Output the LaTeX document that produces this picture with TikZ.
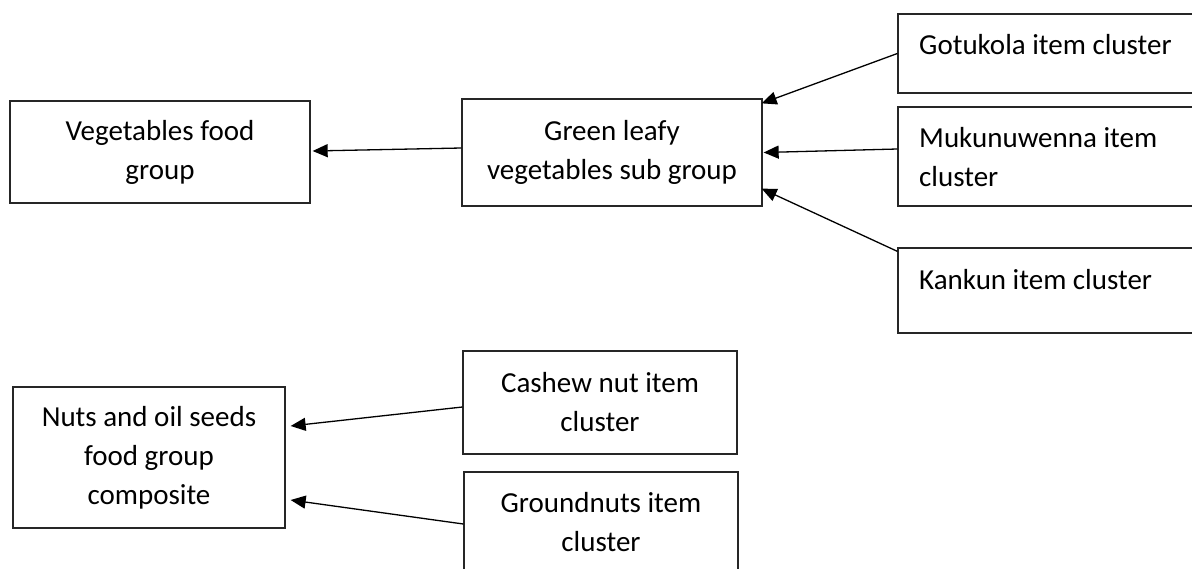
\documentclass[tikz,border=0pt]{standalone}
\usepackage{fontspec}
\setmainfont{Carlito}
\usetikzlibrary{arrows.meta}
\tikzset{
  box/.style={draw=black!85, line width=1.3pt, inner sep=0pt, align=center,
    font=\fontsize{29}{39}\selectfont},
  lbll/.style={font=\fontsize{29}{39}\selectfont, align=left, inner sep=0pt, anchor=west},
  arr/.style={line width=1.3pt, -{Triangle[length=15pt,width=13pt]}}
}
\begin{document}
\begin{tikzpicture}[x=1pt,y=-1pt]
\path[use as bounding box, clip] (0,0) rectangle (1192,568);
\fill[white] (0,0) rectangle (1192,568);
% boxes
\node[box, minimum width=300pt, minimum height=102pt] (veg) at (160,152) {Vegetables food\\group};
\node[box, minimum width=300pt, minimum height=107pt] (green) at (612,152.5) {Green leafy\\vegetables sub group};
\node[box, minimum width=302pt, minimum height=79pt] (gotu) at (1049,53.5) {};
\node[box, minimum width=302pt, minimum height=99pt] (muk) at (1049,156.5) {};
\node[box, minimum width=302pt, minimum height=85pt] (kank) at (1049,290.5) {};
\node[box, minimum width=272pt, minimum height=141pt] (nuts) at (149,457.5) {Nuts and oil seeds\\food group\\composite};
\node[box, minimum width=274pt, minimum height=103pt] (cash) at (600,402.5) {Cashew nut item\\cluster};
\node[box, minimum width=274pt, minimum height=101pt] (grnd) at (601,522.5) {Groundnuts item\\cluster};
% left-aligned texts
\node[lbll] (gotut) at (919,45) {Gotukola item cluster};
\node[lbll] (mukt) at (919,157.5) {Mukunuwenna item\\cluster};
\node[lbll] (kankt) at (919,280) {Kankun item cluster};
% connectors
\draw[arr] ([shift={(0,-4.5)}]green.west) -- ([shift={(2,-1)}]veg.east);
\draw[arr] (gotu.west) -- ([shift={(-1,5)}]green.north east);
\draw[arr] ([shift={(0,-7.5)}]muk.west) -- ([shift={(1,0)}]green.east);
\draw[arr] ([shift={(0,4)}]kank.north west) -- ([shift={(-1,-18)}]green.south east);
\draw[arr] ([shift={(0,4.5)}]cash.west) -- ([shift={(5,-31.5)}]nuts.east);
\draw[arr] ([shift={(0,1.5)}]grnd.west) -- ([shift={(5,42.5)}]nuts.east);
\end{tikzpicture}
\end{document}
